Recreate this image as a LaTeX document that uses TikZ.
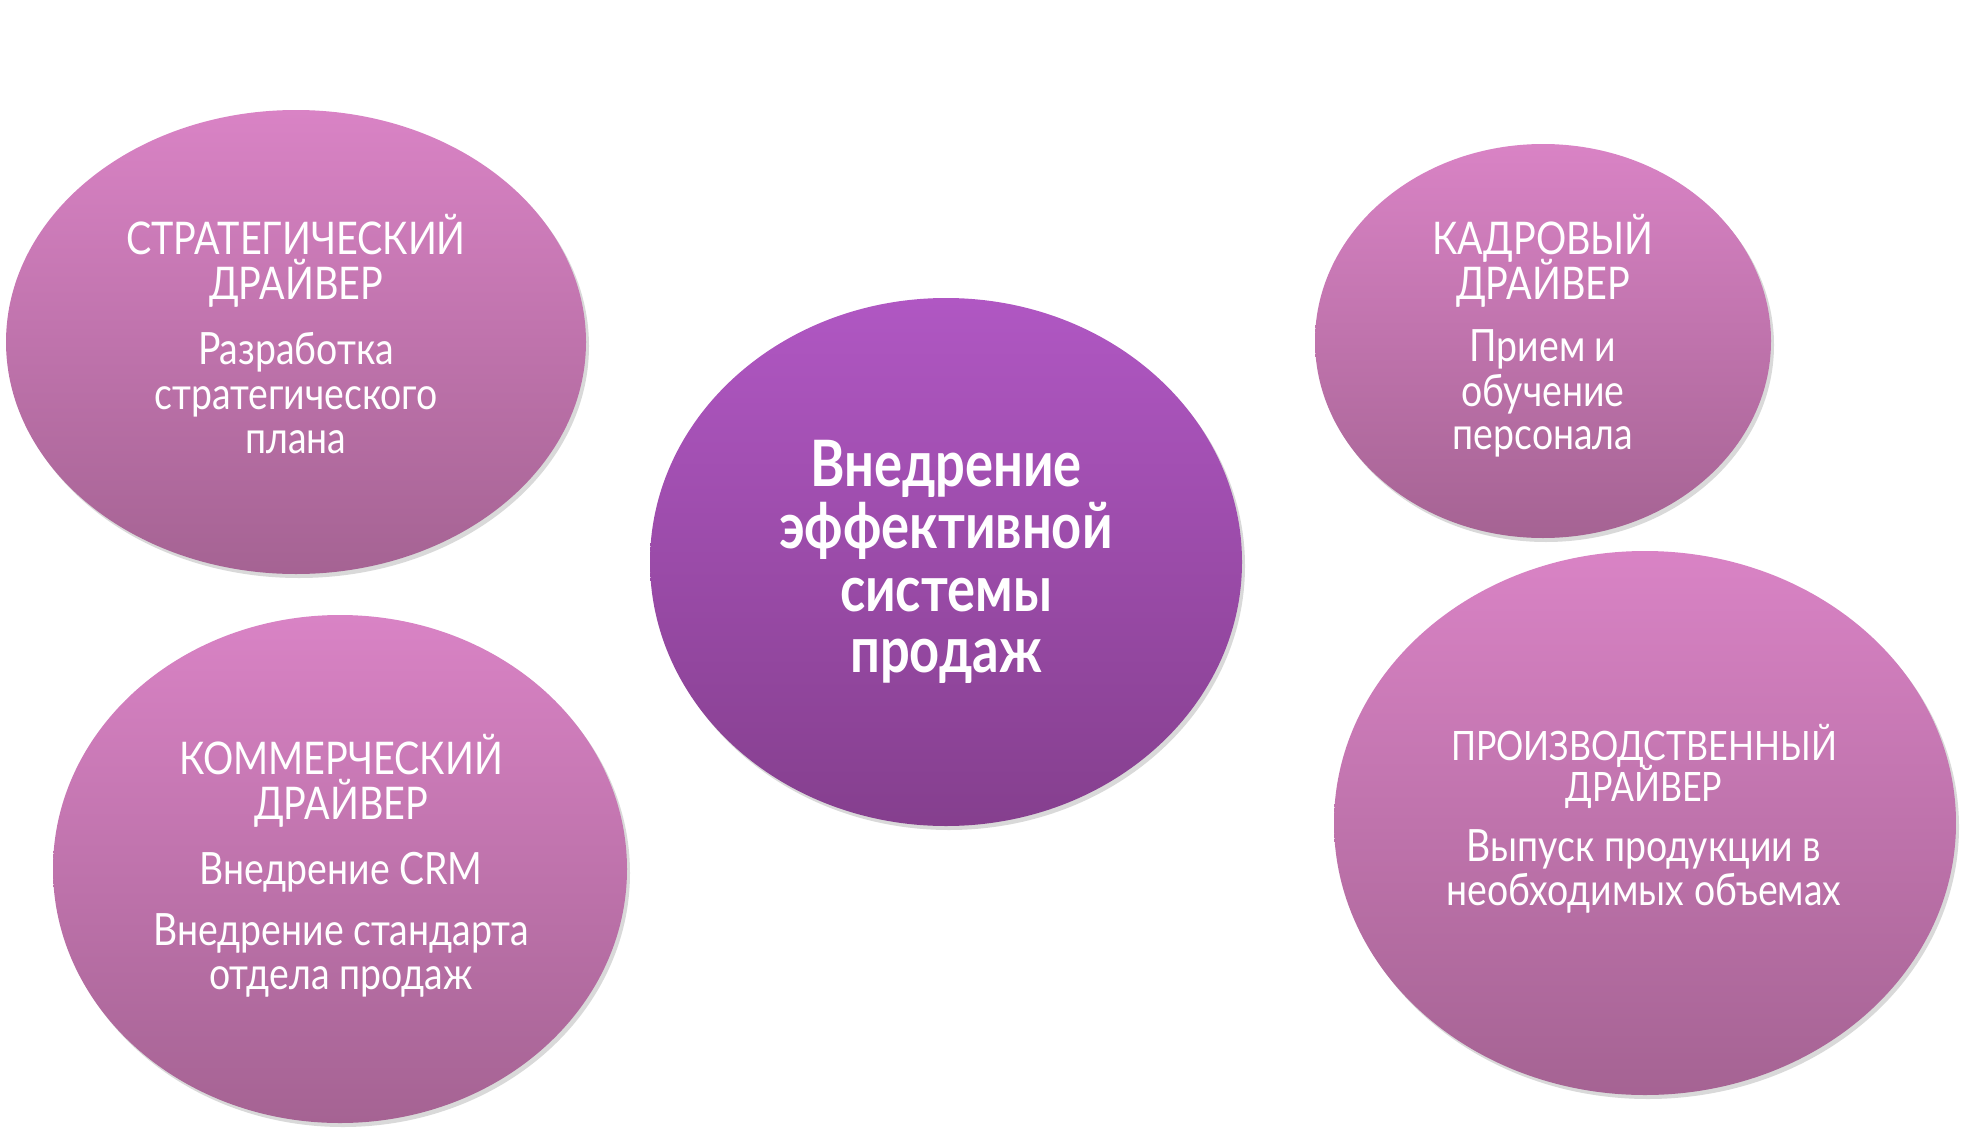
\documentclass[tikz,border=0pt]{standalone}
\usepackage{fontspec}
\setmainfont{Lato}
\newfontfamily\narrowfont[FakeStretch=0.84]{Lato}
\newfontfamily\narrowbold[FakeStretch=0.82]{Lato Bold}
\usetikzlibrary{shapes.geometric,shadows}
\definecolor{outtop}{HTML}{D983C5}
\definecolor{outbot}{HTML}{A56393}
\definecolor{ctop}{HTML}{B057C3}
\definecolor{cbot}{HTML}{853F8E}
\tikzset{
  blob/.style={ellipse, inner sep=0pt, top color=outtop, bottom color=outbot, draw=none,
    drop shadow={shadow xshift=3pt, shadow yshift=-4pt, opacity=0.25, fill=black!60}},
  cblob/.style={blob, top color=ctop, bottom color=cbot},
  hd/.style={anchor=base, text=white, font=\narrowfont\fontsize{45}{45}\selectfont, inner sep=0pt},
  hdsmall/.style={hd, font=\narrowfont\fontsize{40.5}{40.5}\selectfont},
  bd/.style={anchor=base, text=white, font=\narrowfont\fontsize{44.5}{44.5}\selectfont, inner sep=0pt},
  ct/.style={anchor=base, text=white, font=\narrowbold\fontsize{64}{64}\selectfont, inner sep=0pt}
}
\begin{document}
\begin{tikzpicture}[x=1pt,y=-1pt]
\useasboundingbox (0,0) rectangle (1963,1135);
% ellipses
\node[blob, minimum width=580pt, minimum height=464pt] (tl) at (296,342) {};
\node[blob, minimum width=574pt, minimum height=508pt] (bl) at (340,869) {};
\node[blob, minimum width=456pt, minimum height=394pt] (tr) at (1543,341) {};
\node[blob, minimum width=622pt, minimum height=544pt] (br) at (1645,823) {};
\node[cblob, minimum width=592pt, minimum height=528pt] (c) at (946,562) {};
% top left
\node[hd] (tl1) at (296,254) {СТРАТЕГИЧЕСКИЙ};
\node[hd] (tl2) at (296,299) {ДРАЙВЕР};
\node[bd] (tl3) at (296,364) {Разработка};
\node[bd] (tl4) at (296,409) {стратегического};
\node[bd] (tl5) at (296,453) {плана};
% top right
\node[hd] (tr1) at (1543,254) {КАДРОВЫЙ};
\node[hd] (tr2) at (1543,299) {ДРАЙВЕР};
\node[bd] (tr3) at (1543,361) {Прием и};
\node[bd] (tr4) at (1543,406) {обучение};
\node[bd] (tr5) at (1543,449) {персонала};
% bottom left
\node[hd] (bl1) at (341,774) {КОММЕРЧЕСКИЙ};
\node[hd] (bl2) at (341,819) {ДРАЙВЕР};
\node[bd] (bl3) at (341,884) {Внедрение CRM};
\node[bd] (bl4) at (341,945) {Внедрение стандарта};
\node[bd] (bl5) at (341,989) {отдела продаж};
% bottom right
\node[hdsmall] (br1) at (1644,760) {ПРОИЗВОДСТВЕННЫЙ};
\node[hdsmall] (br2) at (1644,801) {ДРАЙВЕР};
\node[bd] (br3) at (1644,861) {Выпуск продукции в};
\node[bd] (br4) at (1644,905) {необходимых объемах};
% centre
\node[ct] (c1) at (946,486) {Внедрение};
\node[ct] (c2) at (946,548) {эффективной};
\node[ct] (c3) at (946,611) {системы};
\node[ct] (c4) at (946,672) {продаж};
\end{tikzpicture}
\end{document}
